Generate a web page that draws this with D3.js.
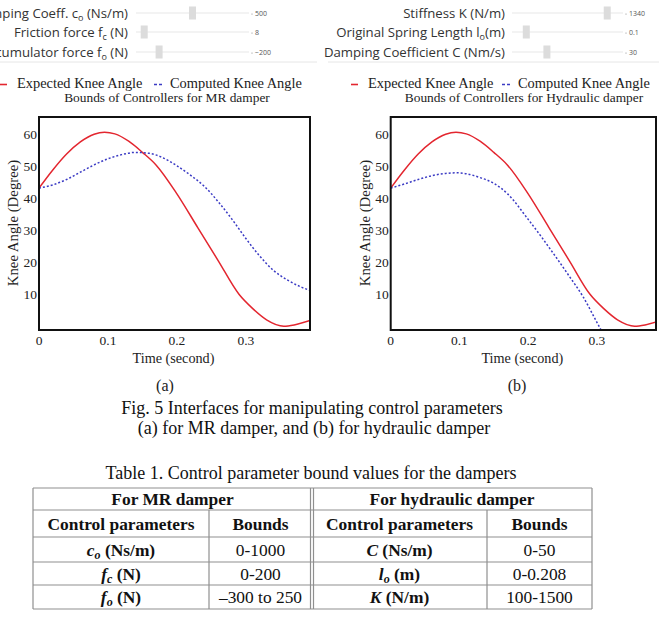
<!DOCTYPE html>
<html>
<head>
<meta charset="utf-8">
<script src="https://cdn.jsdelivr.net/npm/d3@7"></script>
<style>
  body { margin: 0; background: #fff; }
  svg { display: block; }
</style>
</head>
<body>
<svg id="fig" width="659" height="630"></svg>
<script>
// ---- data ----
const expTime = [0, 0.02, 0.04, 0.06, 0.08, 0.095, 0.11, 0.13, 0.15, 0.17, 0.2, 0.23, 0.26, 0.29, 0.31, 0.33, 0.355, 0.37, 0.393];
const expAngle = [43.3, 49, 54, 57.8, 60.2, 60.8, 60.3, 58, 54.5, 50.5, 41.5, 31, 20.5, 10, 5.5, 2, 0, 0.4, 1.8];

const mrTime = [0, 0.02, 0.04, 0.06, 0.08, 0.1, 0.12, 0.14, 0.16, 0.18, 0.2, 0.22, 0.24, 0.26, 0.28, 0.3, 0.32, 0.34, 0.36, 0.38, 0.393];
const mrAngle = [43.3, 44.3, 46, 48.3, 50.6, 52.5, 53.8, 54.5, 54.2, 52.8, 50.3, 47.3, 43.8, 39, 33.5, 27.5, 22, 17.5, 14.5, 12.3, 11.2];

const hydTime = [0, 0.02, 0.04, 0.06, 0.08, 0.095, 0.11, 0.13, 0.15, 0.17, 0.2, 0.22, 0.24, 0.26, 0.28, 0.3, 0.31];
const hydAngle = [43.3, 44.6, 46, 47.2, 47.9, 48.1, 47.8, 46.6, 44.8, 41.5, 33.5, 27.8, 21.8, 15.6, 9.2, 1.2, -2.8];

const xTicks = [0, 0.1, 0.2, 0.3];
const yTicks = [10, 20, 30, 40, 50, 60];

const mrLabels = ["Damping Coeff. c", "Friction force f", "Accumulator force f"];
const mrSubs = ["o", "c", "o"];
const mrTails = [" (Ns/m)", " (N)", " (N)"];
const mrValues = [500, 8, -200];
const mrText = ["500", "8", "\u2212200"];
const mrMin = [0, 0, -300];
const mrMax = [1000, 200, 250];

const hydLabels = ["Stiffness K (N/m)", "Original Spring Length l", "Damping Coefficient C (Nm/s)"];
const hydSubs = ["", "o", ""];
const hydTails = ["", "(m)", ""];
const hydValues = [1340, 0.1, 30];
const hydText = ["1340", "0.1", "30"];
const hydMin = [100, 0, 0];
const hydMax = [1500, 1, 100];

const tableHead = ["For MR damper", "For hydraulic damper"];
const colHead = ["Control parameters", "Bounds", "Control parameters", "Bounds"];
const mrSym = ["c", "f", "f"];
const mrSymSub = ["o", "c", "o"];
const mrUnit = [" (Ns/m)", " (N)", " (N)"];
const mrBounds = ["0-1000", "0-200", "\u2013300 to 250"];
const hydSym = ["C", "l", "K"];
const hydSymSub = ["", "o", ""];
const hydUnit = [" (Ns/m)", " (m)", " (N/m)"];
const hydBounds = ["0-50", "0-0.208", "100-1500"];

const RED = "#e3262f", BLUE = "#3b3bc4";
const SERIF = "'Liberation Serif', 'Times New Roman', serif";
const SANS = "'Open Sans', 'Noto Sans', sans-serif";

const svg = d3.select("#fig");
svg.append("rect").attr("width", 659).attr("height", 630).attr("fill", "#fff");

// ---- slider panels ----
function sliderPanel(labels, subs, tails, values, texts, mins, maxs, labelX, x0, x1) {
  const g = svg.append("g").attr("font-family", SANS).attr("fill", "#333");
  const rowsY = [13, 32, 52];
  labels.forEach((lab, i) => {
    const y = rowsY[i];
    const t = g.append("text").attr("x", labelX).attr("y", y + 4.5)
      .attr("text-anchor", "end").attr("font-size", 13.2);
    t.append("tspan").text(lab);
    if (subs[i]) t.append("tspan").attr("font-size", 9).attr("dy", 3).text(subs[i]);
    if (tails[i]) t.append("tspan").attr("dy", subs[i] ? -3 : 0).text(tails[i]);

    g.append("line").attr("x1", x0).attr("x2", x1).attr("y1", y).attr("y2", y)
      .attr("stroke", "#e8e8e8").attr("stroke-width", 1.2);
    const s = d3.scaleLinear().domain([mins[i], maxs[i]]).range([x0 + 4, x1 - 4]);
    g.append("rect").attr("x", s(values[i]) - 3.5).attr("y", y - 6.5)
      .attr("width", 7).attr("height", 13).attr("fill", "#dcdcdc");
    g.append("circle").attr("cx", x1 + 3).attr("cy", y + 1).attr("r", 0.6).attr("fill", "#888");
    g.append("text").attr("x", x1 + 6).attr("y", y + 2.5).attr("font-size", 7)
      .attr("fill", "#555").text(texts[i]);
  });
}
sliderPanel(mrLabels, mrSubs, mrTails, mrValues, mrText, mrMin, mrMax, 128, 136, 249);
sliderPanel(hydLabels, hydSubs, hydTails, hydValues, hydText, hydMin, hydMax, 505, 512, 623);

svg.append("line").attr("x1", 0).attr("x2", 317).attr("y1", 62).attr("y2", 62).attr("stroke", "#e6e6e6");
svg.append("line").attr("x1", 328).attr("x2", 659).attr("y1", 62).attr("y2", 62).attr("stroke", "#e6e6e6");

// ---- plots ----
function plot(id, left, right, xMax, title, titleX, series, legendX, caption) {
  const top = 117, bottom = 330;
  const x = d3.scaleLinear().domain([0, xMax]).range([left, right]);
  const y = d3.scaleLinear().domain([-1.2, 65.6]).range([bottom, top]);
  const g = svg.append("g").attr("font-family", SERIF).attr("fill", "#222");

  // legend
  const lg = g.append("g");
  lg.append("line").attr("x1", legendX[0]).attr("x2", legendX[0] + 7).attr("y1", 84.5).attr("y2", 84.5)
    .attr("stroke", RED).attr("stroke-width", 1.6);
  lg.append("text").attr("x", legendX[0] + 17).attr("y", 88).attr("font-size", 14.4).text("Expected Knee Angle");
  lg.append("line").attr("x1", legendX[1]).attr("x2", legendX[1] + 8).attr("y1", 84.5).attr("y2", 84.5)
    .attr("stroke", BLUE).attr("stroke-width", 1.6).attr("stroke-dasharray", "3,2");
  lg.append("text").attr("x", legendX[1] + 16).attr("y", 88).attr("font-size", 14.4).text("Computed Knee Angle");

  g.append("text").attr("x", titleX).attr("y", 102).attr("text-anchor", "middle")
    .attr("font-size", 13.4).text(title);

  g.append("clipPath").attr("id", id).append("rect")
    .attr("x", left).attr("y", top).attr("width", right - left).attr("height", bottom - top);

  const line = d3.line().x(d => x(d[0])).y(d => y(d[1])).curve(d3.curveMonotoneX);
  series.forEach(s => {
    g.append("path").datum(d3.zip(s.t, s.v)).attr("d", line)
      .attr("clip-path", `url(#${id})`).attr("fill", "none")
      .attr("stroke", s.color).attr("stroke-width", 1.5)
      .attr("stroke-dasharray", s.dash || null);
  });

  g.append("rect").attr("x", left).attr("y", top).attr("width", right - left).attr("height", bottom - top)
    .attr("fill", "none").attr("stroke", "#111").attr("stroke-width", 2);

  g.selectAll(".yt").data(yTicks).join("text")
    .attr("x", left - 2).attr("y", d => y(d) + 4.5).attr("text-anchor", "end")
    .attr("font-size", 13.5).text(d => d);
  g.selectAll(".xt").data(xTicks).join("text")
    .attr("x", d => x(d)).attr("y", 345).attr("text-anchor", "middle")
    .attr("font-size", 13.5).text(d => d3.format("")(d));

  g.append("text").attr("x", (left + right) / 2 - 1).attr("y", 363).attr("text-anchor", "middle")
    .attr("font-size", 14.2).text("Time (second)");
  g.append("text").attr("transform", `translate(${left - 21},${223}) rotate(-90)`)
    .attr("text-anchor", "middle").attr("font-size", 14.8).text("Knee Angle (Degree)");

  g.append("text").attr("x", caption[0]).attr("y", 391).attr("text-anchor", "middle")
    .attr("font-size", 16).text(caption[1]);
}

plot("clipA", 39, 310, 0.393, "Bounds of Controllers for MR damper", 167, [
  { t: expTime, v: expAngle, color: RED },
  { t: mrTime, v: mrAngle, color: BLUE, dash: "2,2" }
], [0, 154], [165, "(a)"]);

plot("clipB", 390.7, 656, 0.386, "Bounds of Controllers for Hydraulic damper", 524, [
  { t: expTime, v: expAngle, color: RED },
  { t: hydTime, v: hydAngle, color: BLUE, dash: "2,2" }
], [351, 502], [517, "(b)"]);

// ---- captions ----
const cap = svg.append("g").attr("font-family", SERIF).attr("fill", "#111").attr("text-anchor", "middle");
cap.append("text").attr("x", 312).attr("y", 414).attr("font-size", 18)
  .text("Fig. 5 Interfaces for manipulating control parameters");
cap.append("text").attr("x", 314).attr("y", 434).attr("font-size", 18)
  .text("(a) for MR damper, and (b) for hydraulic damper");
cap.append("text").attr("x", 311).attr("y", 479).attr("font-size", 18)
  .text("Table 1. Control parameter bound values for the dampers");

// ---- table ----
const colX = [33, 209, 312, 487, 592];
const rowY = [488, 510, 537, 562, 585, 609];
const tb = svg.append("g").attr("font-family", SERIF).attr("fill", "#111");
const border = "#8f8f8f";
rowY.forEach(yv => tb.append("line").attr("x1", colX[0]).attr("x2", colX[4]).attr("y1", yv).attr("y2", yv)
  .attr("stroke", border).attr("stroke-width", 1.2));
[colX[0], colX[4]].forEach(xv => tb.append("line").attr("x1", xv).attr("x2", xv)
  .attr("y1", rowY[0]).attr("y2", rowY[5]).attr("stroke", border).attr("stroke-width", 1.2));
[colX[2] - 1.5, colX[2] + 1.5].forEach(xv => tb.append("line").attr("x1", xv).attr("x2", xv)
  .attr("y1", rowY[0]).attr("y2", rowY[5]).attr("stroke", border).attr("stroke-width", 1.2));
[colX[1], colX[3]].forEach(xv => tb.append("line").attr("x1", xv).attr("x2", xv)
  .attr("y1", rowY[1]).attr("y2", rowY[5]).attr("stroke", border).attr("stroke-width", 1.2));

const mid = (a, b) => (a + b) / 2;
function cell(c0, c1, r, bold) {
  return tb.append("text").attr("x", mid(colX[c0], colX[c1])).attr("y", mid(rowY[r], rowY[r + 1]) + 6)
    .attr("text-anchor", "middle").attr("font-size", 17.4).attr("font-weight", bold ? "bold" : "normal");
}
cell(0, 2, 0, true).text(tableHead[0]);
cell(2, 4, 0, true).text(tableHead[1]);
colHead.forEach((h, i) => cell(i, i + 1, 1, true).text(h));

function paramCell(c, r, sym, sub, unit) {
  const t = cell(c, c + 1, r, true);
  t.append("tspan").attr("font-style", "italic").text(sym);
  if (sub) t.append("tspan").attr("font-style", "italic").attr("font-size", 12).attr("dy", 3).text(sub);
  t.append("tspan").attr("dy", sub ? -3 : 0).text(unit);
}
mrSym.forEach((s, i) => {
  paramCell(0, i + 2, s, mrSymSub[i], mrUnit[i]);
  cell(1, 2, i + 2, false).text(mrBounds[i]);
  paramCell(2, i + 2, hydSym[i], hydSymSub[i], hydUnit[i]);
  cell(3, 4, i + 2, false).text(hydBounds[i]);
});
</script>
</body>
</html>
